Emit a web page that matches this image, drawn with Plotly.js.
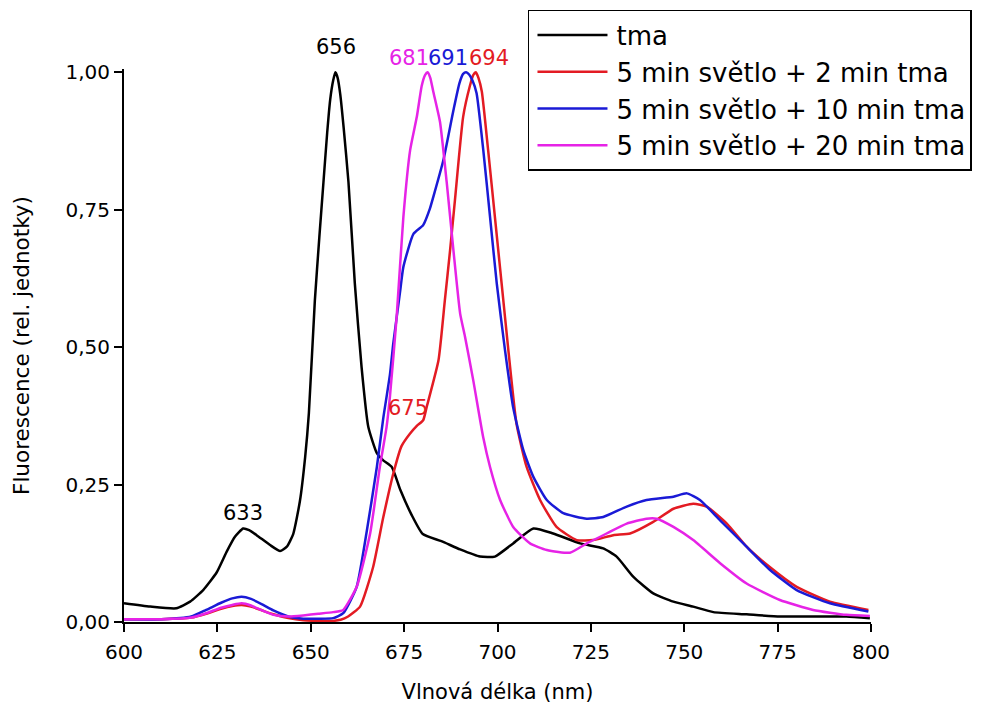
<!DOCTYPE html>
<html>
<head>
<meta charset="utf-8">
<script src="https://cdn.plot.ly/plotly-3.0.1.min.js"></script>
<style>html,body{margin:0;padding:0;background:#fff;}#chart{width:987px;height:704px;}</style>
</head>
<body>
<div id="chart"></div>
<script>
// Series names
const seriesNames = ["tma", "5 min světlo + 2 min tma", "5 min světlo + 10 min tma", "5 min světlo + 20 min tma"];

// tma (black)
const wlTma = [600,607,614,617.7,621.2,624.8,627.5,629.7,631.9,633.5,635.5,639.1,641.8,643.6,645.3,647.1,648.5,649.5,651.1,652.3,653.4,654.4,655.2,656.0,656.6,657.2,657.9,658.8,660.1,661.8,663.6,665.4,667.7,669.4,671.7,674,677,680,685,690,695.3,699.3,704.2,709.6,714.9,722.1,728.3,731.9,736.4,741.7,747.1,752.4,757.8,766.7,775.6,784.5,793.4,799.7];
const fTma = [0.034,0.028,0.025,0.037,0.058,0.09,0.128,0.155,0.170,0.167,0.158,0.14,0.129,0.137,0.16,0.22,0.30,0.38,0.585,0.70,0.80,0.89,0.95,0.985,1.0,0.99,0.96,0.90,0.80,0.616,0.464,0.355,0.307,0.294,0.282,0.24,0.195,0.16,0.147,0.132,0.119,0.119,0.143,0.170,0.161,0.143,0.134,0.119,0.082,0.052,0.037,0.028,0.018,0.014,0.010,0.010,0.010,0.007];

// 5 min světlo + 2 min tma (red)
const wl2 = [600,610,618,622,626,629,631.5,634,637,640,644,648,652,656,658,660,663.2,666.7,669.4,672.1,674.3,676.6,678.4,680.1,681,684.2,685.9,687.3,688.6,690.8,692.6,693.5,694.2,694.9,695.8,697.5,699.3,701.1,702.9,705.1,707.8,711.4,715.8,721.2,725.6,731,735.5,741.7,747.1,752.4,756,761.4,766.7,772.9,780.1,789,799.3];
const f2 = [0.005,0.005,0.008,0.015,0.024,0.029,0.031,0.028,0.021,0.014,0.007,0.003,0.002,0.002,0.004,0.010,0.028,0.10,0.19,0.27,0.32,0.343,0.357,0.367,0.39,0.476,0.585,0.676,0.767,0.919,0.975,0.995,1.0,0.99,0.965,0.858,0.737,0.616,0.495,0.36,0.282,0.222,0.173,0.149,0.149,0.158,0.161,0.182,0.206,0.215,0.21,0.179,0.137,0.10,0.064,0.037,0.022];

// 5 min světlo + 10 min tma (blue)
const wl10 = [600,610,618,622,626,629,631.5,634,637,640,644,648,652,656,658.7,662.3,664.9,667.7,669.4,671.2,672.1,673.9,674.8,677.5,680.1,681.9,682.8,685.5,688.2,689.8,690.8,691.6,692.4,693.3,694.4,696.2,698,699.8,702,704.2,706.9,709.6,713.2,717.6,723.9,728.3,734.6,739.9,747.1,750.7,754.2,759.6,765.8,772.9,780.1,789,799.3];
const f10 = [0.005,0.005,0.01,0.022,0.035,0.043,0.046,0.042,0.032,0.021,0.010,0.006,0.006,0.007,0.016,0.064,0.161,0.282,0.37,0.45,0.507,0.60,0.646,0.706,0.722,0.752,0.773,0.84,0.931,0.98,0.997,1.0,0.996,0.985,0.962,0.858,0.737,0.616,0.495,0.39,0.313,0.264,0.222,0.198,0.188,0.191,0.21,0.222,0.228,0.234,0.222,0.185,0.143,0.095,0.058,0.034,0.019];

// 5 min světlo + 20 min tma (magenta)
const wl20 = [600,610,618,622,626,629,631.5,634,637,640,644,648,652,656,658.7,662.3,665.9,668.5,670.3,671.2,673,674.8,676.6,678.4,679.7,680.6,681.3,682.0,682.8,684.6,686.4,688.2,690,691.3,693.5,696.2,698,700.7,704.2,708.7,713.2,719.4,723.9,729.2,734.6,739.9,742.6,747.1,752.4,759.6,766.7,775.6,784.5,793.4,799.7];
const f20 = [0.005,0.005,0.008,0.016,0.026,0.031,0.034,0.030,0.021,0.013,0.010,0.012,0.015,0.018,0.022,0.064,0.161,0.282,0.355,0.41,0.555,0.737,0.858,0.919,0.975,0.995,1.0,0.99,0.965,0.91,0.80,0.676,0.561,0.519,0.44,0.335,0.282,0.222,0.173,0.143,0.131,0.126,0.143,0.161,0.179,0.188,0.188,0.173,0.149,0.107,0.07,0.04,0.022,0.013,0.011];

// Peak labels (wavelength of label centre, anchor value, pixel lift above anchor)
const peakText = ["656", "633", "675", "681", "691", "694"];
const peakX = [656.8, 631.9, 676.0, 676.2, 686.7, 697.7];
const peakY = [1.0, 0.198, 0.389, 1.0, 1.0, 1.0];
const peakLift = [25, 0, 0, 14, 14, 14];
const peakSeries = [0, 0, 1, 3, 2, 1];

// Axis ticks
const yTickVals = [0, 0.25, 0.5, 0.75, 1.0];
const yTickText = ["0,00", "0,25", "0,50", "0,75", "1,00"];
const xTickVals = [600, 625, 650, 675, 700, 725, 750, 775, 800];

const colors = ["#000000", "#e31b23", "#1a1ad6", "#e623e6"];
const FONT = "DejaVu Sans, Liberation Sans, Arial, sans-serif";

const xs = [wlTma, wl2, wl10, wl20];
const ys = [fTma, f2, f10, f20];

const traces = seriesNames.map((name, i) => ({
  type: "scatter",
  mode: "lines",
  name: name,
  x: xs[i],
  y: ys[i],
  line: { color: colors[i], width: 2.5, shape: "spline", smoothing: 0.5 },
  hoverinfo: "skip"
}));

const annotations = peakText.map((t, i) => ({
  text: t,
  x: peakX[i],
  y: peakY[i],
  yshift: peakLift[i],
  xref: "x",
  yref: "y",
  showarrow: false,
  xanchor: "center",
  yanchor: "middle",
  font: { family: FONT, size: 21, color: colors[peakSeries[i]] }
}));

const layout = {
  width: 987,
  height: 704,
  paper_bgcolor: "#ffffff",
  plot_bgcolor: "#ffffff",
  font: { family: FONT, color: "#000000" },
  margin: { l: 124, r: 116, t: 69, b: 82, pad: 0, autoexpand: false },
  showlegend: true,
  legend: {
    x: 0.5408,
    y: 1.1067,
    xanchor: "left",
    yanchor: "top",
    bgcolor: "#ffffff",
    bordercolor: "#000000",
    borderwidth: 1.5,
    itemwidth: 77,
    font: { family: FONT, size: 26, color: "#000000" },
    tracegroupgap: 0
  },
  xaxis: {
    range: [600, 800],
    tickvals: xTickVals,
    ticks: "outside",
    ticklen: 8,
    tickwidth: 2,
    tickcolor: "#000000",
    ticklabelstandoff: 3,
    showline: true,
    linecolor: "#000000",
    linewidth: 2,
    showgrid: false,
    zeroline: false,
    tickfont: { family: FONT, size: 20, color: "#000000" },
    title: { text: "Vlnová délka (nm)", font: { family: FONT, size: 21, color: "#000000" }, standoff: 22 },
    automargin: false
  },
  yaxis: {
    range: [0, 1.006],
    tickvals: yTickVals,
    ticktext: yTickText,
    ticks: "outside",
    ticklen: 8,
    tickwidth: 2,
    tickcolor: "#000000",
    showline: true,
    linecolor: "#000000",
    linewidth: 2,
    showgrid: false,
    zeroline: false,
    tickfont: { family: FONT, size: 20, color: "#000000" },
    title: { text: "Fluorescence (rel. jednotky)", font: { family: FONT, size: 21.5, color: "#000000" }, standoff: 30 },
    automargin: false
  },
  annotations: annotations
};

Plotly.newPlot("chart", traces, layout, { displayModeBar: false, staticPlot: true }).then(function (gd) {
  // lengthen the legend line samples to match the reference
  gd.querySelectorAll(".legend .legendlines path").forEach(function (p) {
    p.setAttribute("d", "M8,0h70");
  });
});
</script>
</body>
</html>
